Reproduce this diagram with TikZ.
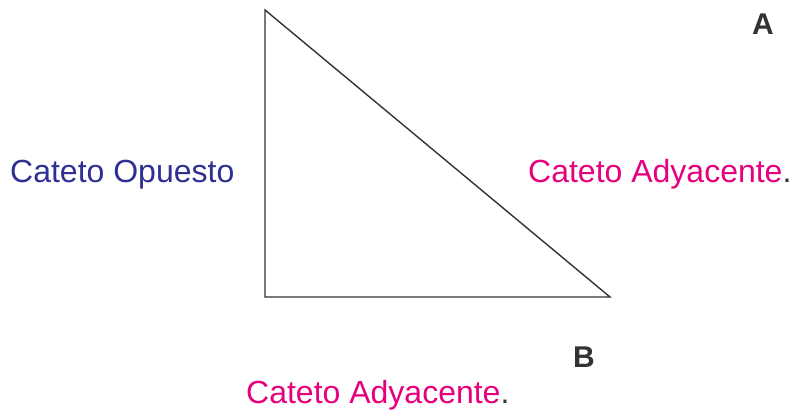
\documentclass[tikz,border=0pt]{standalone}
\usepackage{fontspec}
\setmainfont{Liberation Sans}
\definecolor{catblue}{HTML}{2E3192}
\definecolor{catpink}{HTML}{E6007E}
\definecolor{inkgray}{HTML}{333333}
\begin{document}
\begin{tikzpicture}[x=1pt, y=-1pt,
    every node/.style={inner sep=0pt, anchor=base west, font=\fontsize{32}{38}\selectfont},
    vertex/.style={font=\fontsize{30}{36}\selectfont\bfseries, text=inkgray}]
  \useasboundingbox (0,0) rectangle (795,411);
  % vertices of the triangle
  \coordinate (top) at (265,10);
  \coordinate (corner) at (265,297);
  \coordinate (right) at (610,297);
  \draw[inkgray, line width=1.4pt, line join=miter] (top) -- (right) -- (corner) -- cycle;
  \node[text=catblue] (opuesto) at (10,183) {Cateto Opuesto};
  \node[text=inkgray] (adyright) at (528,183) {\textcolor{catpink}{Cateto Adyacente}.};
  \node[text=inkgray] (adybottom) at (246,403) {\textcolor{catpink}{Cateto Adyacente}.};
  \node[vertex] (labA) at (752,35) {A};
  \node[vertex] (labB) at (573,368) {B};
\end{tikzpicture}
\end{document}
